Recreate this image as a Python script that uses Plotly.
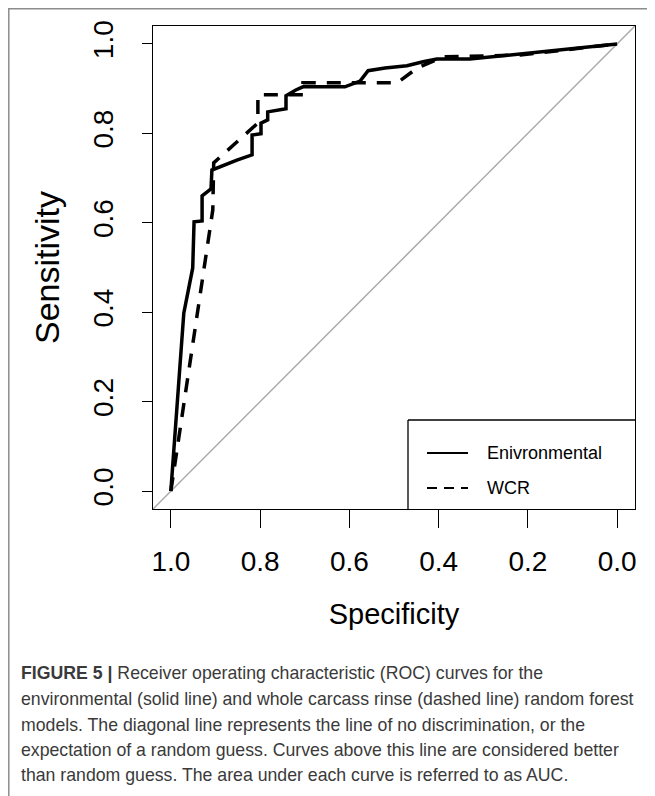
import plotly.graph_objects as go

# ---- data ----
env_specificity = [1.000, 0.971, 0.951, 0.948, 0.930, 0.930, 0.910, 0.908, 0.852, 0.818, 0.818,
                   0.798, 0.798, 0.783, 0.783, 0.742, 0.742, 0.720, 0.704, 0.610, 0.576, 0.558,
                   0.520, 0.471, 0.435, 0.404, 0.330, 0.000]
env_sensitivity = [0.000, 0.398, 0.499, 0.602, 0.604, 0.660, 0.676, 0.718, 0.740, 0.752, 0.796,
                   0.799, 0.823, 0.830, 0.848, 0.855, 0.884, 0.897, 0.904, 0.904, 0.917, 0.940,
                   0.946, 0.951, 0.960, 0.966, 0.966, 1.000]

wcr_specificity = [1.000, 0.906, 0.904, 0.805, 0.805, 0.704, 0.704, 0.493, 0.448, 0.390, 0.217, 0.000]
wcr_sensitivity = [0.000, 0.629, 0.734, 0.823, 0.886, 0.886, 0.913, 0.913, 0.946, 0.971, 0.975, 1.000]

tick_values = [1.0, 0.8, 0.6, 0.4, 0.2, 0.0]
tick_labels = ["1.0", "0.8", "0.6", "0.4", "0.2", "0.0"]
legend_labels = ["Enivronmental", "WCR"]

caption_lines = [
    "<b>FIGURE 5 |</b> Receiver operating characteristic (ROC) curves for the",
    "environmental (solid line) and whole carcass rinse (dashed line) random forest",
    "models. The diagonal line represents the line of no discrimination, or the",
    "expectation of a random guess. Curves above this line are considered better",
    "than random guess. The area under each curve is referred to as AUC.",
]

# ---- layout geometry (page pixels; the page body has an 8px margin) ----
OFF = 8
W, H = 655 - OFF, 796 - OFF
L, R, T, B = 153, 635, 26, 509   # plot area in page pixels
Lf, Rf, Tf, Bf = L - OFF, R - OFF, T - OFF, B - OFF


def px(x):
    return (x - L) / (R - L)


def py(y):
    return (B - y) / (B - T)


FONT = "Liberation Sans, Arial, Helvetica, sans-serif"


def seg(x0, y0, x1, y1, color="black", width=1.3, dash=None):
    ln = dict(color=color, width=width)
    if dash:
        ln["dash"] = dash
    return dict(type="line", xref="paper", yref="paper", x0=px(x0), x1=px(x1),
                y0=py(y0), y1=py(y1), line=ln, layer="above")


shapes = [
    # diagonal reference line (abline through (1,0) and (0,1))
    dict(type="line", xref="x", yref="y", x0=1.04, y0=-0.04, x1=-0.04, y1=1.04,
         line=dict(color="#aaaaaa", width=1.5), layer="below"),
    # legend box
    seg(408, 420, 635, 420), seg(408, 420, 408, 509),
    # legend keys
    seg(427, 453, 468, 453, width=2),
    seg(427, 488, 468, 488, width=2, dash="10px,7px"),
    # page frame (top and left rules)
    seg(8, 8.8, 660, 8.8, color="#8c8c8c", width=1.5),
    seg(8.8, 8, 8.8, 800, color="#8c8c8c", width=1.5),
]

annotations = []
for i, lab in enumerate(legend_labels):
    annotations.append(dict(xref="paper", yref="paper", x=px(485), y=py(453 + 35 * i),
                            text=lab, showarrow=False, xanchor="left", yanchor="middle",
                            font=dict(family=FONT, size=18, color="black")))

cap_y = [673, 699, 725, 750, 775]
for yy, line in zip(cap_y, caption_lines):
    annotations.append(dict(xref="paper", yref="paper", x=px(19), y=py(yy), text=line,
                            showarrow=False, xanchor="left", yanchor="middle",
                            font=dict(family=FONT, size=17.7, color="#3a3a3a")))

layout = go.Layout(
    width=W, height=H,
    margin=dict(l=Lf, r=W - Rf, t=Tf, b=H - Bf, pad=0, autoexpand=False),
    paper_bgcolor="white", plot_bgcolor="white",
    shapes=shapes, annotations=annotations,
    showlegend=False,
    xaxis=dict(range=[1.04, -0.04], tickvals=tick_values, ticktext=tick_labels,
               ticks="outside", ticklen=18, tickwidth=1.3, tickcolor="black",
               showline=True, linecolor="black", linewidth=1.3, mirror=True,
               showgrid=False, zeroline=False, ticklabelstandoff=9, automargin=False,
               tickfont=dict(family=FONT, size=28, color="black"),
               title=dict(text="Specificity", standoff=27,
                          font=dict(family=FONT, size=29, color="black"))),
    yaxis=dict(range=[-0.04, 1.04], tickvals=tick_values, ticktext=tick_labels,
               ticks="outside", ticklen=10, tickwidth=1.3, tickcolor="black",
               showline=True, linecolor="black", linewidth=1.3, mirror=True,
               showgrid=False, zeroline=False, tickangle=-90, ticklabelstandoff=18,
               automargin=False,
               tickfont=dict(family=FONT, size=28, color="black"),
               title=dict(text="Sensitivity", standoff=17,
                          font=dict(family=FONT, size=34, color="black"))),
)

fig = go.Figure(layout=layout)
fig.add_trace(go.Scatter(x=env_specificity, y=env_sensitivity, mode="lines",
                         line=dict(color="black", width=3.5), name=legend_labels[0],
                         showlegend=False))
fig.add_trace(go.Scatter(x=wcr_specificity, y=wcr_sensitivity, mode="lines",
                         line=dict(color="black", width=3.5, dash="14px,11px"),
                         name=legend_labels[1], showlegend=False))

fig.write_html("out.html")
